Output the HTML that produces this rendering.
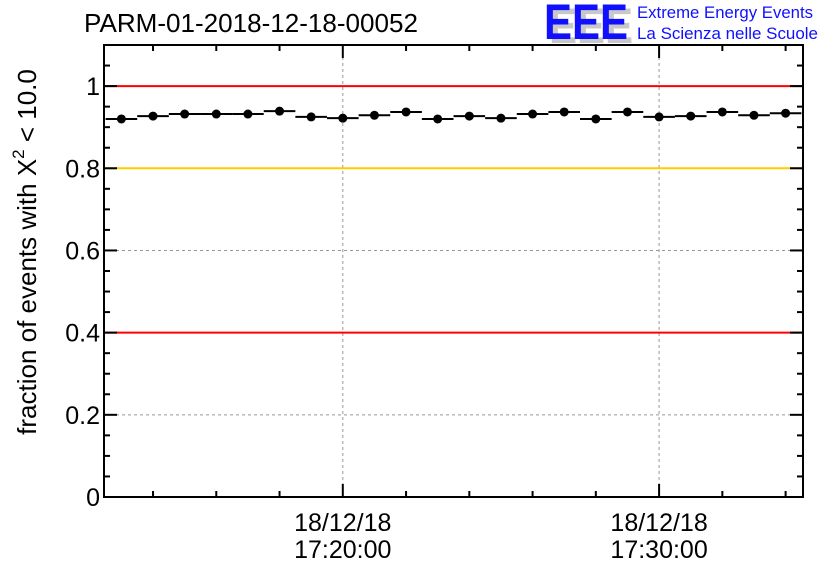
<!DOCTYPE html>
<html><head><meta charset="utf-8">
<style>
html,body{margin:0;padding:0;background:#fff;}
svg{display:block;font-family:"Liberation Sans",sans-serif;}
</style></head>
<body>
<svg id="chart" width="836" height="572" viewBox="0 0 836 572">
<rect x="0" y="0" width="836" height="572" fill="#fff"/>
<text x="84" y="32" font-size="26" fill="#000" textLength="334" lengthAdjust="spacingAndGlyphs">PARM-01-2018-12-18-00052</text>
<g>
<text x="549" y="43" font-size="50" font-weight="bold" fill="#c8c8c8" textLength="84" lengthAdjust="spacingAndGlyphs">EEE</text>
<text x="544" y="39" font-size="50" font-weight="bold" fill="#1010ff" textLength="84" lengthAdjust="spacingAndGlyphs">EEE</text>
<text x="637" y="18" font-size="16.5" fill="#1010ff" textLength="176" lengthAdjust="spacingAndGlyphs">Extreme Energy Events</text>
<text x="637" y="39" font-size="16.5" fill="#1010ff" textLength="181" lengthAdjust="spacingAndGlyphs">La Scienza nelle Scuole</text>
</g>
<g id="plot"></g>
<text transform="translate(36,252) rotate(-90)" text-anchor="middle" font-size="26" fill="#000">fraction of events with X<tspan font-size="17" dy="-12">2</tspan><tspan dy="12"> &lt; 10.0</tspan></text>
</svg>
<script>
// data
const binStartMinutes = [-7.5,-6.5,-5.5,-4.5,-3.5,-2.5,-1.5,-0.5,0.5,1.5,2.5,3.5,4.5,5.5,6.5,7.5,8.5,9.5,10.5,11.5,12.5,13.5];
const fractionValues = [0.920,0.927,0.932,0.932,0.932,0.939,0.925,0.922,0.929,0.937,0.920,0.927,0.922,0.932,0.937,0.920,0.937,0.925,0.927,0.937,0.929,0.934];
const yTickValues = [0,0.2,0.4,0.6,0.8,1];
const yTickLabels = ["0","0.2","0.4","0.6","0.8","1"];
const xMajorMinutes = [0,10];
const xMajorDates = ["18/12/18","18/12/18"];
const xMajorTimes = ["17:20:00","17:30:00"];
const refLineValues = [1,0.8,0.4];
const refLineColors = ["#ff0000","#ffcc00","#ff0000"];
const gridYValues = [0.2,0.6];

const L=104,R=803,T=45,B=497;
const xMin=-7.5-0.05, xMax=14.5+0.05;
const yMin=0,yMax=1.1;
const xs=m=>L+(m-xMin)/(xMax-xMin)*(R-L);
const ys=v=>B-(v-yMin)/(yMax-yMin)*(B-T);
const NS="http://www.w3.org/2000/svg";
const g=document.getElementById('plot');
function mk(tag,attrs,parent){const e=document.createElementNS(NS,tag);for(const k in attrs)e.setAttribute(k,attrs[k]);(parent||g).appendChild(e);return e;}

gridYValues.forEach(v=>{const e=mk('line',{x1:L,x2:R,y1:ys(v),y2:ys(v),stroke:'#999','stroke-width':1,'stroke-dasharray':'3,3'});

});
xMajorMinutes.forEach(m=>{const e=mk('line',{x1:xs(m),x2:xs(m),y1:T,y2:B,stroke:'#999','stroke-width':1,'stroke-dasharray':'3,3'});

});
refLineValues.forEach((v,i)=>{const e=mk('line',{x1:L,x2:R,y1:ys(v),y2:ys(v),stroke:refLineColors[i],'stroke-width':2});

});
const fr=mk('rect',{x:L,y:T,width:R-L,height:B-T,fill:'none',stroke:'#000','stroke-width':2});


for(let k=0;k<=22;k++){const v=k*0.05;const major=(k%4===0);const len=major?13:6;const y=ys(v);
 const a=mk('line',{x1:L,x2:L+len,y1:y,y2:y,stroke:'#000','stroke-width':2});
 
 
 const b=mk('line',{x1:R-len,x2:R,y1:y,y2:y,stroke:'#000','stroke-width':2});
 
 }
yTickValues.forEach((v,i)=>{const t=mk('text',{x:L-4,y:ys(v)+9,'text-anchor':'end','font-size':25,fill:'#000'});t.textContent=yTickLabels[i];

});
for(let m=-6;m<=14;m+=2){const major=(m%10===0);const len=major?13:6;const x=xs(m);
 const a=mk('line',{x1:x,x2:x,y1:B,y2:B-len,stroke:'#000','stroke-width':2});
 
 
 const b=mk('line',{x1:x,x2:x,y1:T,y2:T+len,stroke:'#000','stroke-width':2});
 
 }
xMajorMinutes.forEach((m,i)=>{
 const t1=mk('text',{x:xs(m),y:531,'text-anchor':'middle','font-size':25,fill:'#000'});t1.textContent=xMajorDates[i];
 
 
 const t2=mk('text',{x:xs(m),y:558,'text-anchor':'middle','font-size':25,fill:'#000'});t2.textContent=xMajorTimes[i];
 
 });
binStartMinutes.forEach((s,i)=>{const y=ys(fractionValues[i]);
 const seg=mk('line',{x1:xs(s),x2:xs(s+1),y1:y,y2:y,stroke:'#000','stroke-width':2});
 
 
 const c=mk('circle',{cx:xs(s+0.5),cy:y,r:4.5,fill:'#000'});
 
 });
</script>
</body></html>
